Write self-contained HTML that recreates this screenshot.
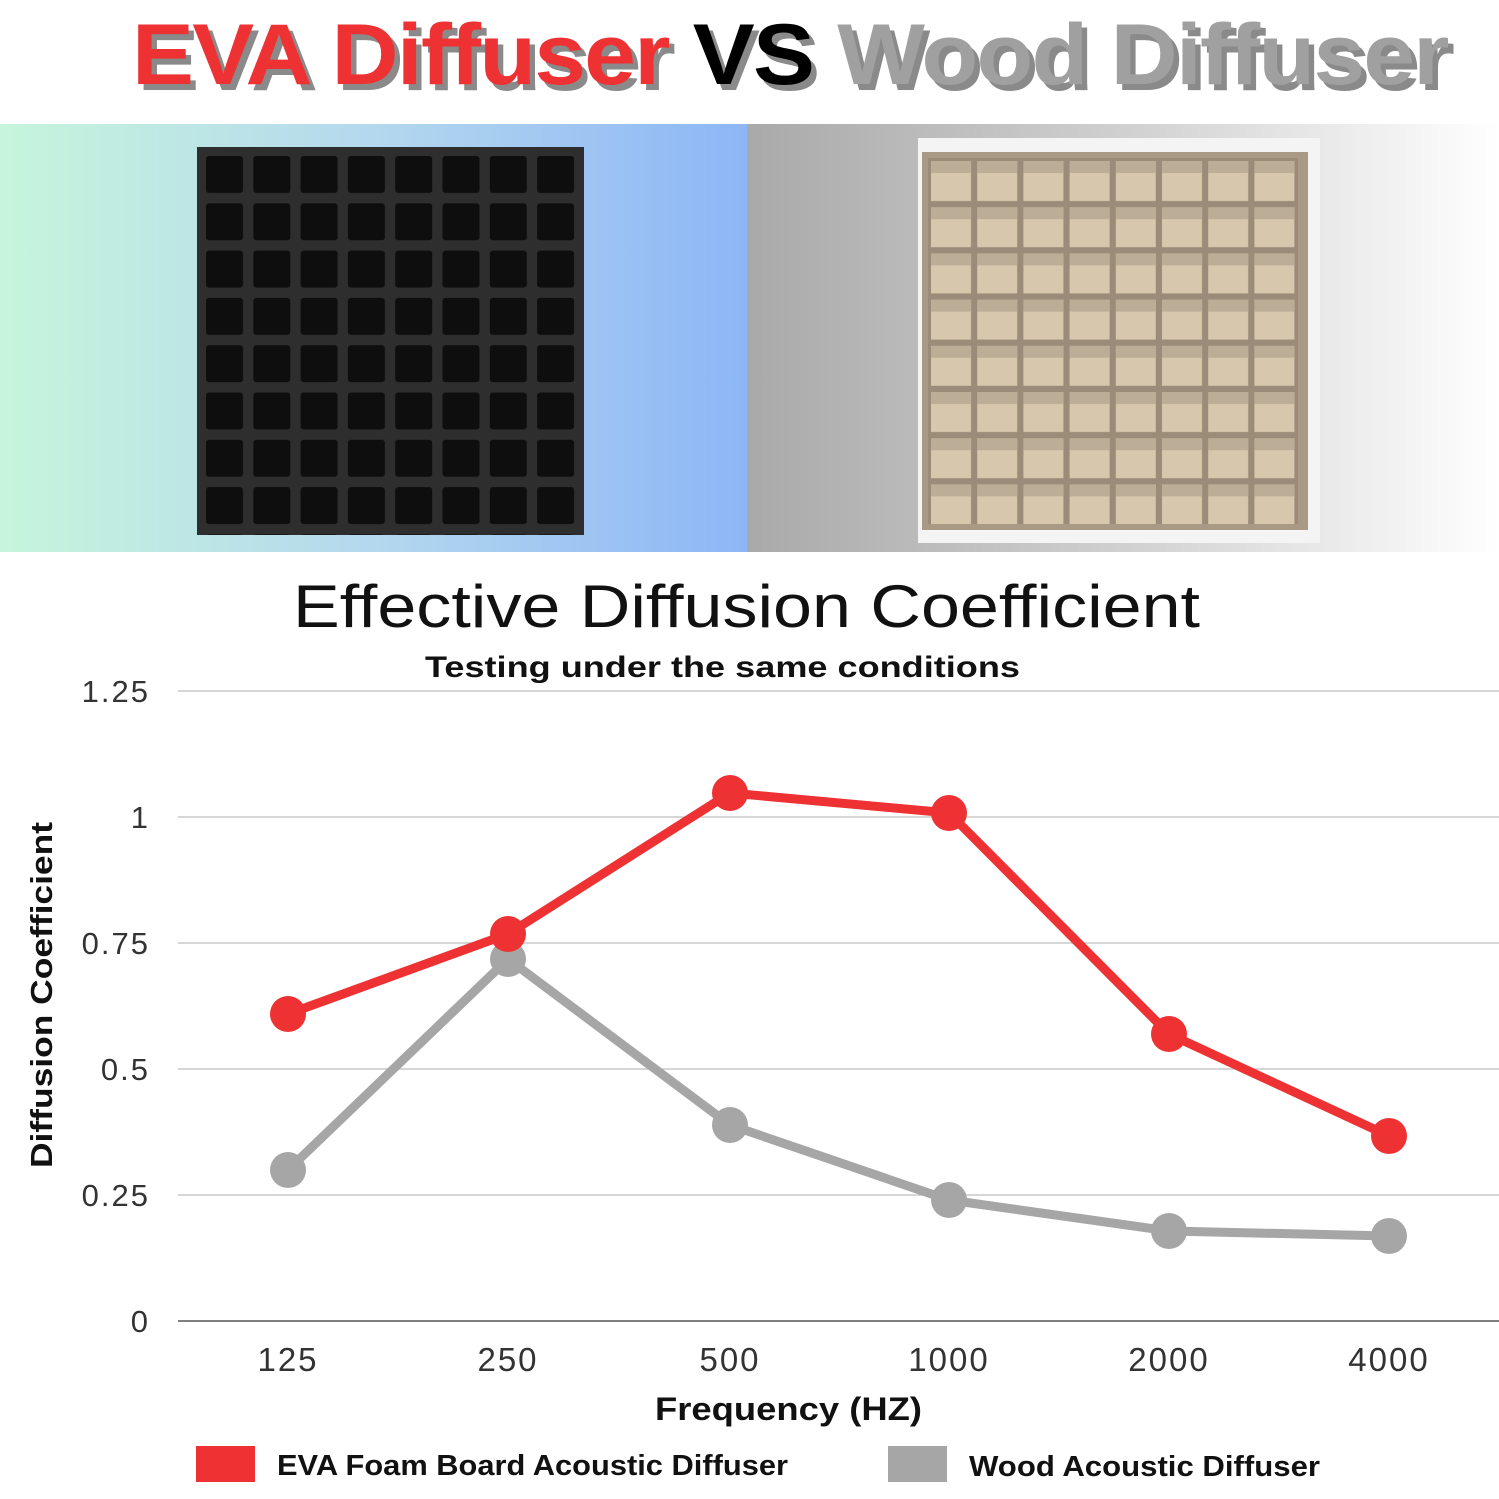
<!DOCTYPE html>
<html><head><meta charset="utf-8"><style>
body{margin:0;width:1499px;height:1499px;background:#fff;overflow:hidden;font-family:"Liberation Sans",sans-serif;position:relative}
.t{position:absolute;left:132px;top:6px;font-size:86px;font-weight:bold;letter-spacing:-1.6px;white-space:nowrap;text-shadow:5px 6px 0 #8a8a8a;transform:scaleX(1.08);transform-origin:left}
</style></head><body>
<div class="t"><span style="color:#ee3233">EVA Diffuser</span> <span style="color:#000">VS</span> <span style="color:#a0a0a0">Wood Diffuser</span></div>
<svg width="1499" height="1499" style="position:absolute;left:0;top:0" xmlns="http://www.w3.org/2000/svg" font-family="Liberation Sans, sans-serif">
<defs>
<linearGradient id="g1" x1="0" x2="1"><stop offset="0" stop-color="#c6f5dc"/><stop offset="0.5" stop-color="#b4d8ee"/><stop offset="1" stop-color="#8db6f6"/></linearGradient>
<linearGradient id="g2" x1="0" x2="1"><stop offset="0" stop-color="#a9a9a9"/><stop offset="0.5" stop-color="#d0d0d0"/><stop offset="1" stop-color="#ffffff"/></linearGradient>
<pattern id="pe" x="205" y="155" width="47.3" height="47.3" patternUnits="userSpaceOnUse"><rect x="1" y="1" width="37" height="37" rx="3" fill="#0e0e0e"/></pattern>
<pattern id="pw" x="928" y="158" width="46.2" height="46.2" patternUnits="userSpaceOnUse"><rect x="0" y="0" width="46.2" height="46.2" fill="#9a8c78"/><rect x="3" y="3" width="40" height="40" fill="#d7c7ad"/><rect x="3" y="3" width="40" height="12" fill="#bcae96"/></pattern>
</defs>
<rect x="0" y="124" width="747" height="428" fill="url(#g1)"/>
<rect x="747" y="124" width="752" height="428" fill="url(#g2)"/>
<rect x="197" y="147" width="387" height="388" fill="#2e2e2e"/>
<rect x="197" y="147" width="387" height="388" fill="url(#pe)"/>
<rect x="918" y="138" width="402" height="405" fill="#f4f4f4"/>
<rect x="922" y="152" width="386" height="378" fill="#a89a84"/>
<rect x="928" y="158" width="370" height="366" fill="url(#pw)"/>
<text x="293" y="627" font-size="60" fill="#111" textLength="907" lengthAdjust="spacingAndGlyphs">Effective Diffusion Coefficient</text>
<text x="425" y="677" font-size="30" font-weight="bold" fill="#111" textLength="595" lengthAdjust="spacingAndGlyphs">Testing under the same conditions</text>
<g stroke="#c8c8c8" stroke-width="1.5">
<line x1="178" y1="691" x2="1499" y2="691"/><line x1="178" y1="817" x2="1499" y2="817"/><line x1="178" y1="943" x2="1499" y2="943"/><line x1="178" y1="1069" x2="1499" y2="1069"/><line x1="178" y1="1195" x2="1499" y2="1195"/></g>
<line x1="178" y1="1321" x2="1499" y2="1321" stroke="#555" stroke-width="1.5"/>
<g font-size="31" fill="#333" text-anchor="end" letter-spacing="2">
<text x="150" y="702">1.25</text><text x="150" y="828">1</text><text x="150" y="954">0.75</text><text x="150" y="1080">0.5</text><text x="150" y="1206">0.25</text><text x="150" y="1332">0</text></g>
<g font-size="33" fill="#333" text-anchor="middle" letter-spacing="2">
<text x="288" y="1371">125</text><text x="508" y="1371">250</text><text x="730" y="1371">500</text><text x="949" y="1371">1000</text><text x="1169" y="1371">2000</text><text x="1389" y="1371">4000</text></g>
<text x="655" y="1420" font-size="32" font-weight="bold" fill="#111" textLength="267" lengthAdjust="spacingAndGlyphs">Frequency (HZ)</text>
<text transform="translate(52 1168) rotate(-90)" font-size="31" font-weight="bold" fill="#111" textLength="346" lengthAdjust="spacingAndGlyphs">Diffusion Coefficient</text>
<polyline points="288,1170 508,959 730,1125 949,1200 1169,1231 1389,1236" fill="none" stroke="#a6a6a6" stroke-width="9" stroke-linejoin="round"/>
<g fill="#a6a6a6"><circle cx="288" cy="1170" r="18"/><circle cx="508" cy="959" r="18"/><circle cx="730" cy="1125" r="18"/><circle cx="949" cy="1200" r="18"/><circle cx="1169" cy="1231" r="18"/><circle cx="1389" cy="1236" r="18"/></g>
<polyline points="288,1014 508,934 730,793 949,813 1169,1034 1389,1136" fill="none" stroke="#ee3233" stroke-width="9" stroke-linejoin="round"/>
<g fill="#ee3233"><circle cx="288" cy="1014" r="18"/><circle cx="508" cy="934" r="18"/><circle cx="730" cy="793" r="18"/><circle cx="949" cy="813" r="18"/><circle cx="1169" cy="1034" r="18"/><circle cx="1389" cy="1136" r="18"/></g>
<rect x="196" y="1446" width="59" height="36" fill="#ee3233"/>
<text x="277" y="1475" font-size="29" font-weight="bold" fill="#111" textLength="511" lengthAdjust="spacingAndGlyphs">EVA Foam Board Acoustic Diffuser</text>
<rect x="888" y="1446" width="59" height="36" fill="#a6a6a6"/>
<text x="969" y="1476" font-size="29" font-weight="bold" fill="#111" textLength="351" lengthAdjust="spacingAndGlyphs">Wood Acoustic Diffuser</text>
</svg>
</body></html>
